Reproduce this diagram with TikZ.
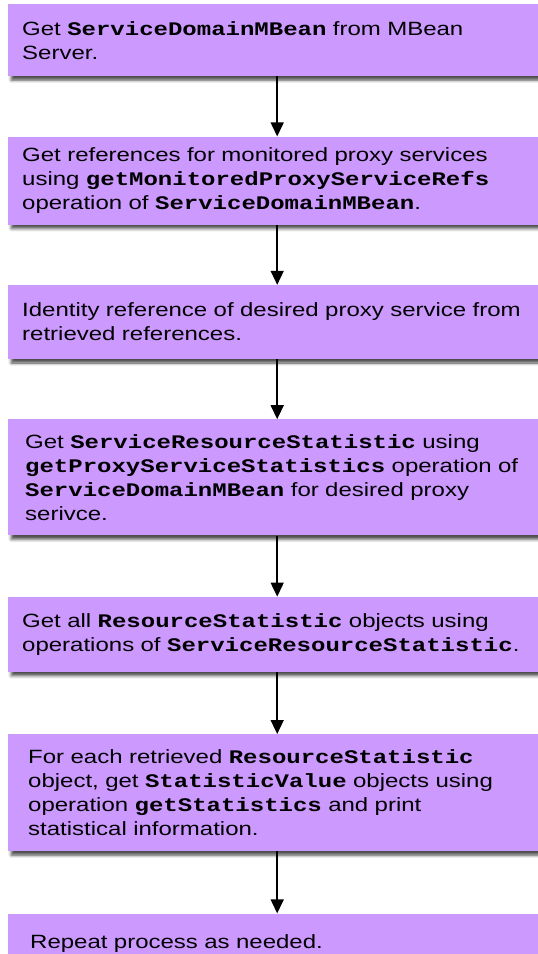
\documentclass[tikz,border=0pt]{standalone}
\usepackage{fontspec}
\setmainfont{Liberation Sans}[FakeStretch=1.25]
\setmonofont{Liberation Mono}[FakeStretch=1.25]
\usetikzlibrary{positioning,shadows.blur,arrows.meta}

\definecolor{stepfill}{RGB}{204,153,255}
\newcommand{\code}[1]{\textbf{\texttt{#1}}}

\begin{document}
\begin{tikzpicture}[x=1pt,y=1pt,node distance=60pt]
			\useasboundingbox (0,0) rectangle (538,-954);
			\clip (0,0) rectangle (538,-954);
			% Define the box style
			\tikzstyle{stepbox} = [rectangle, fill=stepfill, text=black, align=left, text width=510pt, inner xsep=14pt, inner ysep=0pt, font=\fontsize{19.2}{24}\selectfont, blur shadow={shadow xshift=3pt, shadow yshift=-4pt, shadow blur radius=3pt, shadow opacity=70}];
			\tikzstyle{flow} = [-{Triangle[width=13pt,length=14pt]}, line width=1.5pt];
			
			% Steps from top to bottom
			\node[stepbox, anchor=north west, minimum height=72pt] (getmbean) at (8,-4) {Get \code{ServiceDomainMBean} from MBean\\Server.};
			\node[stepbox, below=of getmbean, minimum height=88pt] (getrefs) {Get references for monitored proxy services\\using \code{getMonitoredProxyServiceRefs}\\operation of \code{ServiceDomainMBean}.};
			\node[stepbox, below=of getrefs, minimum height=74pt] (findref) {Identity reference of desired proxy service from\\retrieved references.};
			\node[stepbox, below=of findref, minimum height=116pt, inner xsep=17pt, text width=504pt] (getsrs) {Get \code{ServiceResourceStatistic} using\\\code{getProxyServiceStatistics} operation of\\\code{ServiceDomainMBean} for desired proxy\\serivce.};
			\node[stepbox, below=61pt of getsrs, minimum height=75pt] (getrs) {Get all \code{ResourceStatistic} objects using\\operations of \code{ServiceResourceStatistic}.};
			\node[stepbox, below=62pt of getrs, minimum height=117pt, inner xsep=20pt, text width=498pt] (printstats) {For each retrieved \code{ResourceStatistic}\\object, get \code{StatisticValue} objects using\\operation \code{getStatistics} and print\\statistical information.};
			\node[stepbox, below=62pt of printstats, minimum height=60pt, inner xsep=22pt, text width=494pt] (repeat) {Repeat process as needed.};
			
			% Connect the boxes
			\foreach \a/\b in {getmbean/getrefs, getrefs/findref, findref/getsrs, getsrs/getrs, getrs/printstats, printstats/repeat}
			\draw[flow] (\a) -- (\b);
		\end{tikzpicture}
\end{document}
